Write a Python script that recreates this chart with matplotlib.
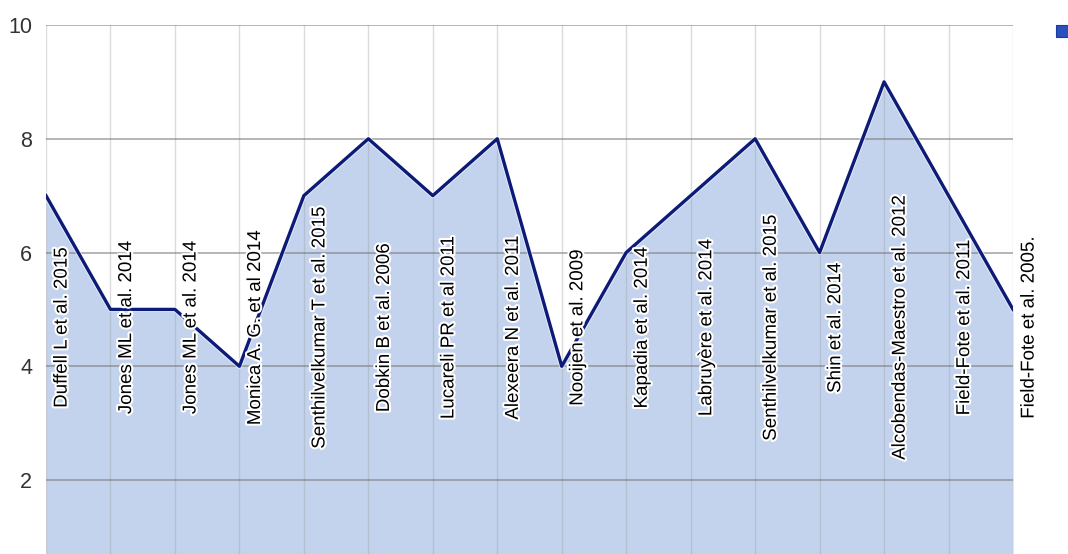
import matplotlib
matplotlib.use("Agg")
import matplotlib.pyplot as plt
import matplotlib.patheffects as pe
from matplotlib.patches import Rectangle
import numpy as np

studies = ["Duffell L et al. 2015", "Jones ML et al. 2014", "Jones ML et al. 2014",
           "Monica A. G. et al 2014", "Senthilvelkumar T et al. 2015", "Dobkin B et al. 2006",
           "Lucareli PR et al 2011", "Alexeera N et al. 2011", "Nooijen et al. 2009",
           "Kapadia et al. 2014", "Labruyère et al. 2014", "Senthilvelkumar et al. 2015",
           "Shin et al. 2014", "Alcobendas-Maestro et al. 2012", "Field-Fote et al. 2011",
           "Field-Fote et al. 2005."]
scores = [7, 5, 5, 4, 7, 8, 7, 8, 4, 6, 7, 8, 6, 9, 7, 5]
yticks = [2, 4, 6, 8, 10]

plt.rcParams['font.family'] = ['Liberation Sans', 'DejaVu Sans']

fig = plt.figure(figsize=(10.68, 5.54), dpi=100)
ax = fig.add_axes([46/1068, 0.0, (1013-46)/1068, 1 - 25/554])

x = np.arange(len(scores))
ax.fill_between(x, scores, 0, color='#c3d3ee', zorder=1, linewidth=0)
ax.plot(x, scores, color='#0d1b78', linewidth=2.4, zorder=4,
        path_effects=[pe.withStroke(linewidth=3.8, foreground='white', alpha=0.6)])

for xi in x:
    ax.axvline(xi, color='#9a9a9a', alpha=0.35, linewidth=1, zorder=2)
for yt in yticks:
    ax.axhline(yt, color='#7a7a7a', alpha=0.6, linewidth=1.3, zorder=2)

for xi, name in zip(x, studies):
    ax.text(xi + 0.25, 4.68, name, rotation=90, ha='center', va='center',
            fontsize=13.5, color='black', zorder=6,
            path_effects=[pe.withStroke(linewidth=3, foreground='white')])

ax.set_xlim(0, len(scores) - 1)
ax.set_ylim(0.7, 10)
ax.set_yticks(yticks)
ax.set_yticklabels([str(v) for v in yticks], fontsize=15.5, color='#333333')
ax.tick_params(axis='y', length=0, pad=10)
ax.set_xticks([])
for s in ax.spines.values():
    s.set_visible(False)

fig.patches.append(Rectangle((1056/1068, 1 - 37/554), 14/1068, 12/554,
                             transform=fig.transFigure, facecolor='#2a4fc0',
                             edgecolor='#1a3aa0', linewidth=0.8))

fig.savefig("out.png", dpi=100)
